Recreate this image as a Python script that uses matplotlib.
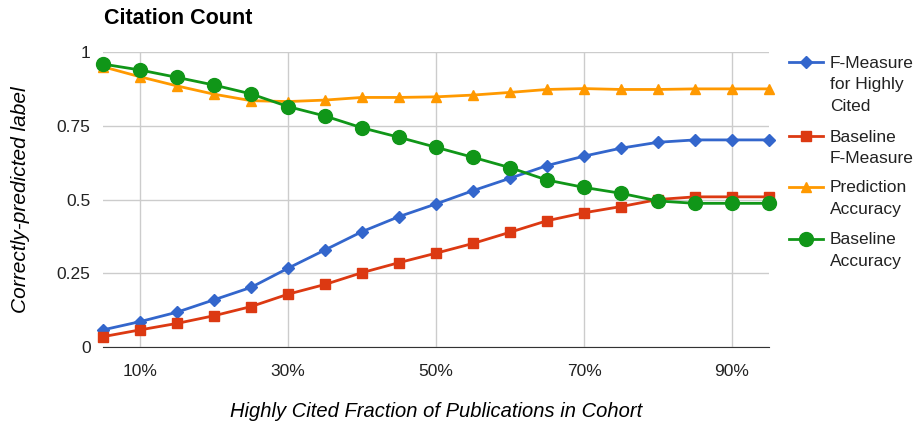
import matplotlib
matplotlib.use('Agg')
import matplotlib.pyplot as plt
from matplotlib.lines import Line2D
from matplotlib.ticker import FuncFormatter

plt.rcParams['font.family'] = ['Liberation Sans', 'DejaVu Sans']

# fraction of highly cited publications (%)
fraction = [5, 10, 15, 20, 25, 30, 35, 40, 45, 50, 55, 60, 65, 70, 75, 80, 85, 90, 95]

f_measure = [0.058, 0.086, 0.118, 0.16, 0.202, 0.267, 0.329, 0.391, 0.442, 0.485,
             0.53, 0.572, 0.615, 0.647, 0.674, 0.694, 0.702, 0.702, 0.702]
baseline_f = [0.035, 0.058, 0.080, 0.106, 0.137, 0.179, 0.212, 0.252, 0.286, 0.318,
              0.351, 0.389, 0.428, 0.455, 0.476, 0.50, 0.509, 0.509, 0.509]
pred_acc = [0.95, 0.916, 0.885, 0.857, 0.835, 0.832, 0.837, 0.846, 0.846, 0.848,
            0.854, 0.863, 0.873, 0.876, 0.873, 0.873, 0.875, 0.875, 0.875]
baseline_acc = [0.959, 0.939, 0.914, 0.888, 0.858, 0.815, 0.783, 0.743, 0.711, 0.677,
                0.643, 0.608, 0.566, 0.541, 0.521, 0.495, 0.487, 0.487, 0.487]

labels = ['F-Measure\nfor Highly\nCited', 'Baseline\nF-Measure',
          'Prediction\nAccuracy', 'Baseline\nAccuracy']
colors = ['#3366CC', '#DC3912', '#FF9900', '#109618']
markers = ['D', 's', '^', 'o']
msizes = [6.5, 6.5, 7.5, 10]

W, H = 921, 421
fig = plt.figure(figsize=(W / 100, H / 100), dpi=100)
ax = fig.add_axes([103 / W, 1 - 347 / H, 666 / W, 295 / H])

series = [f_measure, baseline_f, pred_acc, baseline_acc]
for vals, c, m, ms, lab in zip(series, colors, markers, msizes, labels):
    ax.plot(fraction, vals, color=c, marker=m, markersize=ms, lw=2,
            label=lab, clip_on=False)

ax.set_xlim(5, 95)
ax.set_ylim(0, 1)
ax.set_xticks([10, 30, 50, 70, 90])
ax.xaxis.set_major_formatter(FuncFormatter(lambda v, p: '%d%%' % v))
ax.set_yticks([0, 0.25, 0.5, 0.75, 1])
ax.set_yticklabels(['0', '0.25', '0.5', '0.75', '1'])
ax.grid(True, color='#CCCCCC', lw=1)
ax.set_axisbelow(True)
for s in ['top', 'right', 'left']:
    ax.spines[s].set_visible(False)
ax.spines['bottom'].set_color('#333333')
ax.tick_params(length=0, labelsize=12.5, colors='#222222', pad=9)
ax.tick_params(axis='x', pad=12)

fig.text(104 / W, 1 - 18 / H, 'Citation Count', fontsize=15.5, fontweight='bold', va='center')
ax.set_xlabel('Highly Cited Fraction of Publications in Cohort', fontsize=14.5,
              style='italic', labelpad=17)
ax.set_ylabel('Correctly-predicted label', fontsize=15, style='italic', labelpad=19)

# legend drawn by hand: handle sits on the first line of each label
leg_y = [62, 136, 187, 239]
for lab, c, m, ms, yy in zip(labels, colors, markers, msizes, leg_y):
    fy = 1 - yy / H
    fig.add_artist(Line2D([789 / W, 823 / W], [fy, fy], color=c, lw=2,
                          transform=fig.transFigure))
    fig.add_artist(Line2D([806 / W], [fy], color=c, marker=m, markersize=ms,
                          transform=fig.transFigure))
    fig.text(830 / W, 1 - (yy - 6.5) / H, lab, fontsize=12.5, va='top',
             ha='left', linespacing=1.55, color='#222222')

fig.savefig('out.png', dpi=100)
